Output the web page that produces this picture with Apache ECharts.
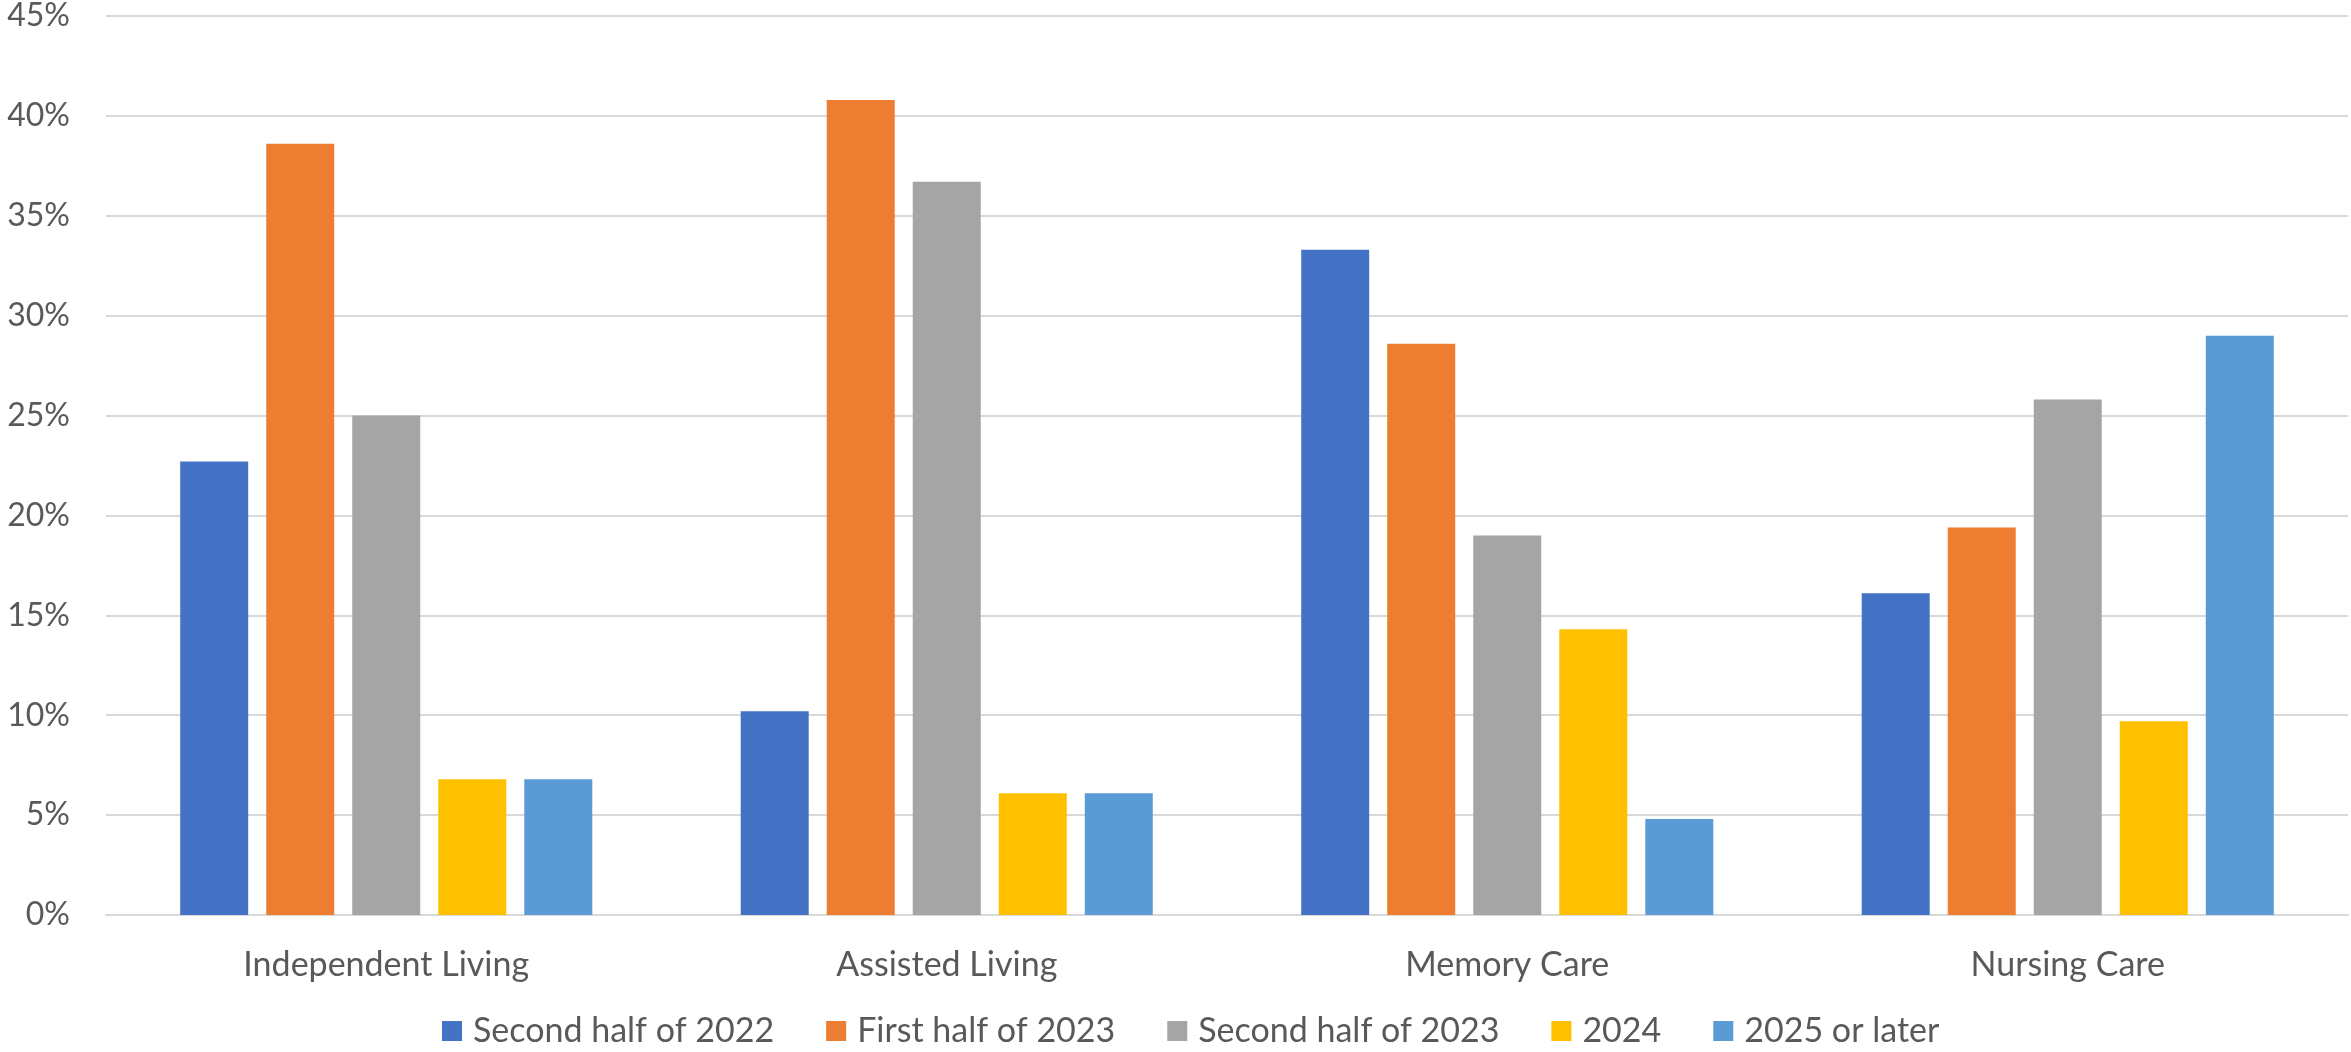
<!DOCTYPE html>
<html>
<head>
<meta charset="utf-8">
<script src="https://cdn.jsdelivr.net/npm/echarts@6/dist/echarts.min.js"></script>
<style>
  html, body { margin: 0; padding: 0; background: #fff; }
  #chart { width: 2351px; height: 1052px; }
</style>
</head>
<body>
<div id="chart"></div>
<script>
// categories on the x axis
var categories = ['Independent Living', 'Assisted Living', 'Memory Care', 'Nursing Care'];
// series names (legend)
var seriesNames = ['Second half of 2022', 'First half of 2023', 'Second half of 2023', '2024', '2025 or later'];
// values in percent, one array per series
var secondHalf2022 = [22.7, 10.2, 33.3, 16.1];
var firstHalf2023 = [38.6, 40.8, 28.6, 19.4];
var secondHalf2023 = [25.0, 36.7, 19.0, 25.8];
var year2024 = [6.8, 6.1, 14.3, 9.7];
var later2025 = [6.8, 6.1, 4.8, 29.0];
var yTicks = [0, 5, 10, 15, 20, 25, 30, 35, 40, 45];

var colors = ['#4472C4', '#ED7D31', '#A5A5A5', '#FFC000', '#5B9BD5'];
var allValues = [secondHalf2022, firstHalf2023, secondHalf2023, year2024, later2025];
var font = 'Lato';
var textColor = '#595959';

var chart = echarts.init(document.getElementById('chart'));

var series = seriesNames.map(function (name, i) {
    return {
        name: name,
        type: 'bar',
        data: allValues[i],
        barWidth: 68,
        barGap: '26.5%',
        itemStyle: { color: colors[i] }
    };
});

chart.setOption({
    animation: false,
    color: colors,
    grid: { left: 106, right: 3, top: 15, bottom: 137 },
    legend: {
        top: 1014,
        left: 442,
        padding: 0,
        itemWidth: 20,
        itemHeight: 20,
        itemGap: 52,
        icon: 'rect',
        data: seriesNames,
        textStyle: { fontFamily: font, fontSize: 34, color: textColor, padding: [0, 0, 0, 6] }
    },
    xAxis: {
        type: 'category',
        data: categories,
        axisLine: { lineStyle: { color: '#D9D9D9', width: 2 } },
        axisTick: { show: false },
        axisLabel: { fontFamily: font, fontSize: 34, color: textColor, margin: 33 }
    },
    yAxis: {
        type: 'value',
        min: yTicks[0],
        max: yTicks[yTicks.length - 1],
        interval: 5,
        axisLine: { show: false },
        axisTick: { show: false },
        splitLine: { lineStyle: { color: '#D9D9D9', width: 2 } },
        axisLabel: {
            fontFamily: font, fontSize: 32, color: textColor, margin: 36,
            formatter: function (v) { return v + '%'; }
        }
    },
    series: series
});
</script>
</body>
</html>
